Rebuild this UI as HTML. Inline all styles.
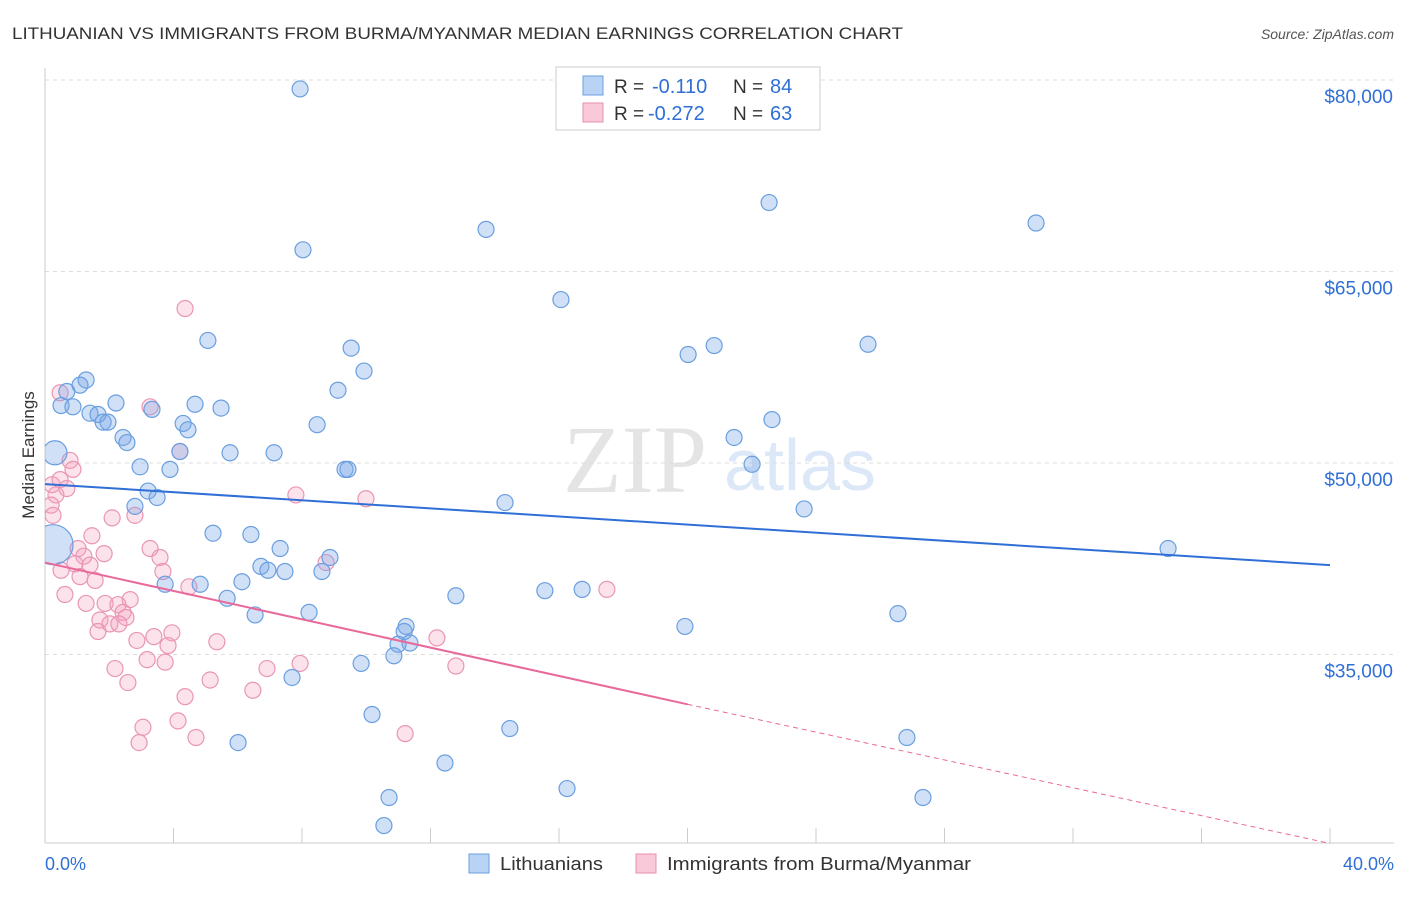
<!DOCTYPE html>
<html><head><meta charset="utf-8"><style>
body{margin:0;background:#fff;font-family:"Liberation Sans",sans-serif;}
</style></head><body>
<svg width="1406" height="892" xmlns="http://www.w3.org/2000/svg" font-family="Liberation Sans, sans-serif">
<defs><clipPath id="plotclip"><rect x="45" y="60" width="1360" height="784"/></clipPath></defs>
<text x="12" y="39" font-size="17" fill="#333" textLength="891" lengthAdjust="spacingAndGlyphs">LITHUANIAN VS IMMIGRANTS FROM BURMA/MYANMAR MEDIAN EARNINGS CORRELATION CHART</text>
<text x="1394" y="39" font-size="14" fill="#555" font-style="italic" text-anchor="end">Source: ZipAtlas.com</text>
<text x="34" y="455" font-size="17" fill="#333" transform="rotate(-90 34 455)" text-anchor="middle">Median Earnings</text>
<g><text x="635" y="492" font-size="96" fill="#e4e4e4" font-family="Liberation Serif, serif" text-anchor="middle">ZIP</text><text x="800" y="490" font-size="72" fill="#dce8f8" text-anchor="middle">atlas</text></g>
<g id="grid"></g><g id="axes"></g><g id="pts" clip-path="url(#plotclip)"></g><g id="trend"></g>
<g>
<rect x="556" y="67" width="264" height="63" fill="#fff" stroke="#ccc"/>
<rect x="583" y="76" width="20" height="19" fill="#b9d3f5" stroke="#6a9fe0"/>
<text x="614" y="93" font-size="19" fill="#333">R =</text><text x="652" y="93" font-size="20" fill="#2f6fd6">-0.110</text><text x="733" y="93" font-size="19" fill="#333">N =</text><text x="770" y="93" font-size="20" fill="#2f6fd6">84</text>
<rect x="583" y="103" width="20" height="19" fill="#f9c9d9" stroke="#e88fb0"/>
<text x="614" y="120" font-size="19" fill="#333">R =</text><text x="648" y="120" font-size="20" fill="#2f6fd6">-0.272</text><text x="733" y="120" font-size="19" fill="#333">N =</text><text x="770" y="120" font-size="20" fill="#2f6fd6">63</text>
</g>
<g>
<rect x="469" y="854" width="20" height="19" fill="#b9d3f5" stroke="#6a9fe0"/>
<text x="500" y="870" font-size="18" fill="#333" textLength="103" lengthAdjust="spacingAndGlyphs">Lithuanians</text>
<rect x="636" y="854" width="20" height="19" fill="#f9c9d9" stroke="#e88fb0"/>
<text x="667" y="870" font-size="18" fill="#333" textLength="304" lengthAdjust="spacingAndGlyphs">Immigrants from Burma/Myanmar</text>
</g>
<text x="45" y="870" font-size="18" fill="#2f6fd6">0.0%</text>
<text x="1394" y="870" font-size="18" fill="#2f6fd6" text-anchor="end">40.0%</text>
</svg>
<script>
const yTicks=[80000,65000,50000,35000];
const yTickLabels=["$80,000","$65,000","$50,000","$35,000"];
const xTicks=[0,4,8,12,16,20,24,28,32,36,40];
const blueX=[7.94,22.54,30.85,13.73,8.03,16.06,5.07,20.83,25.62,20.02,9.53,9.93,1.28,1.09,0.68,0.5,0.87,2.21,9.12,4.67,5.48,3.33,1.4,1.65,1.81,1.96,4.3,8.47,4.45,22.63,2.43,2.55,21.45,0.31,4.2,5.76,7.13,9.34,9.43,2.96,3.89,22.01,3.21,3.49,14.32,23.63,2.8,5.23,6.41,34.96,7.32,8.87,6.72,6.94,7.47,8.62,6.13,3.74,4.83,15.56,16.72,12.79,5.67,8.22,6.54,19.92,26.55,11.24,11.18,11.36,10.99,10.86,9.84,7.69,10.18,14.47,6.01,26.83,12.45,16.25,10.71,27.33,10.55,0.25];
const blueY=[79.3,70.4,68.8,68.3,66.7,62.8,59.6,59.2,59.3,58.5,59.0,57.2,56.5,56.1,55.6,54.5,54.4,54.7,55.7,54.6,54.3,54.2,53.9,53.8,53.2,53.2,53.1,53.0,52.6,53.4,52.0,51.6,52.0,50.8,50.9,50.8,50.8,49.5,49.5,49.7,49.5,49.9,47.8,47.3,46.9,46.4,46.6,44.5,44.4,43.3,43.3,42.6,41.9,41.6,41.5,41.5,40.7,40.5,40.5,40.0,40.1,39.6,39.4,38.3,38.1,37.2,38.2,37.2,36.8,35.9,35.8,34.9,34.3,33.2,30.3,29.2,28.1,28.5,26.5,24.5,23.8,23.8,21.6,43.6];
const blueSize=blueX.map((_,i)=>i===33?12:(i===83?20:8));
const pinkX=[4.36,0.47,3.27,4.2,0.78,0.87,0.22,0.68,0.34,0.19,0.25,2.8,2.09,7.81,9.99,1.46,1.03,1.84,3.27,1.21,3.58,3.67,0.5,0.93,1.4,1.09,1.56,4.48,0.62,2.65,1.28,1.87,2.27,2.43,1.71,2.02,2.52,2.3,1.65,17.49,8.75,3.39,3.95,2.86,5.35,3.83,12.2,3.18,3.74,7.94,2.18,6.91,12.79,2.58,5.14,4.36,6.47,3.05,4.14,2.93,4.7,11.21,0.47];
const pinkY=[62.1,55.5,54.4,50.9,50.2,49.5,48.3,48.0,47.5,46.7,45.9,45.9,45.7,47.5,47.2,44.3,43.3,42.9,43.3,42.7,42.6,41.5,41.6,42.1,42.0,41.1,40.8,40.3,39.7,39.3,39.0,39.0,38.9,38.3,37.7,37.4,37.9,37.4,36.8,40.1,42.2,36.4,36.7,36.1,36.0,35.7,36.3,34.6,34.4,34.3,33.9,33.9,34.1,32.8,33.0,31.7,32.2,29.3,29.8,28.1,28.5,28.8,48.7];
const blueTrend=[48.35,42.0];
const pinkTrend=[42.2,31.1,20.2];
const NS="http://www.w3.org/2000/svg";
const X=p=>45+p*32.125;
const Y=v=>80+(80000-v)*191.5/15000;
const Yk=k=>Y(k*1000);
function mk(t,a,parent){const e=document.createElementNS(NS,t);for(const k in a)e.setAttribute(k,a[k]);parent.appendChild(e);return e;}
const grid=document.getElementById('grid'),axes=document.getElementById('axes'),pts=document.getElementById('pts'),trend=document.getElementById('trend');
yTicks.forEach((v,i)=>{
 const l=mk('line',{x1:45,x2:1394,y1:Y(v),y2:Y(v),stroke:'#ddd','stroke-dasharray':'4,4'},grid);
 
 
 const t=mk('text',{x:1393,y:Y(v)+23,'font-size':19,fill:'#2f6fd6','text-anchor':'end'},grid);
 t.textContent=yTickLabels[i];
 
 
});
const ya=mk('line',{x1:45,x2:45,y1:68,y2:843,stroke:'#ccc'},axes);


const xa=mk('line',{x1:45,x2:1394,y1:843,y2:843,stroke:'#ccc'},axes);


xTicks.forEach(p=>{
 const t=mk('line',{x1:X(p),x2:X(p),y1:828,y2:843,stroke:'#ccc'},axes);
 
 
});
pinkX.forEach((x,i)=>{
 const c=mk('circle',{cx:X(x),cy:Yk(pinkY[i]),r:8,fill:'rgba(244,160,190,0.3)',stroke:'#e996b5','stroke-width':1.2},pts);
 
 
});
blueX.forEach((x,i)=>{
 const c=mk('circle',{cx:X(x),cy:Yk(blueY[i]),r:blueSize[i],fill:'rgba(120,165,230,0.35)',stroke:'#6a9fe0','stroke-width':1.2},pts);
 
 
});
const bt=mk('line',{x1:X(0),y1:Yk(blueTrend[0]),x2:X(40),y2:Yk(blueTrend[1]),stroke:'#2f6fd6','stroke-width':2},trend);


const pt=mk('line',{x1:X(0),y1:Yk(pinkTrend[0]),x2:X(20),y2:Yk(pinkTrend[1]),stroke:'#e8699a','stroke-width':2},trend);


const pd=mk('line',{x1:X(20),y1:Yk(pinkTrend[1]),x2:X(40),y2:Yk(pinkTrend[2]),stroke:'#e8699a','stroke-width':1,'stroke-dasharray':'5,4'},trend);


</script>
</body></html>
